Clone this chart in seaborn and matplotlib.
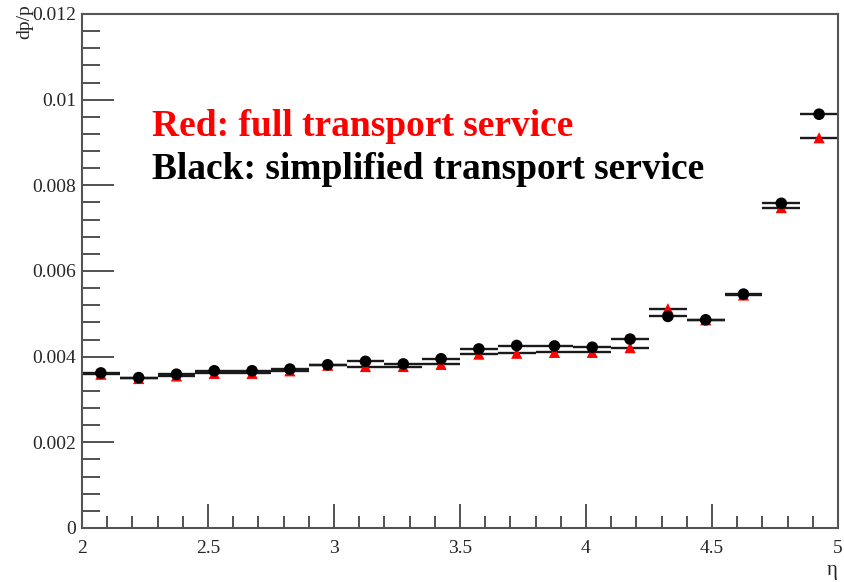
import numpy as np
import pandas as pd
import matplotlib
matplotlib.use("Agg")
import matplotlib.pyplot as plt
import seaborn as sns
from matplotlib.ticker import MultipleLocator

# eta bins (width 0.15 from 2.0 to 5.0)
bin_lo = [2.00, 2.15, 2.30, 2.45, 2.60, 2.75, 2.90, 3.05, 3.20, 3.35,
          3.50, 3.65, 3.80, 3.95, 4.10, 4.25, 4.40, 4.55, 4.70, 4.85]
bin_width = 0.15

# momentum resolution, full transport service
full_dpp = [0.00359, 0.00349, 0.00355, 0.00361, 0.00361, 0.00367, 0.00380, 0.00377, 0.00377, 0.00382,
            0.00406, 0.00408, 0.00410, 0.00410, 0.00421, 0.00512, 0.00486, 0.00544, 0.00748, 0.00911]
# momentum resolution, simplified transport service
simp_dpp = [0.00362, 0.00351, 0.00359, 0.00367, 0.00367, 0.00371, 0.00381, 0.00389, 0.00383, 0.00395,
            0.00418, 0.00426, 0.00425, 0.00422, 0.00441, 0.00494, 0.00486, 0.00546, 0.00758, 0.00966]

label_full = "Red: full transport service"
label_simp = "Black: simplified transport service"

centers = [lo + bin_width / 2 for lo in bin_lo]
df = pd.DataFrame({
    "eta": centers * 2,
    "dpp": full_dpp + simp_dpp,
    "service": ["full"] * len(full_dpp) + ["simplified"] * len(simp_dpp),
})

sns.set_theme(style="white")
plt.rcParams["font.family"] = ["Liberation Serif", "DejaVu Serif"]
plt.rcParams["mathtext.fontset"] = "stix"

fig = plt.figure(figsize=(8.45, 5.82), dpi=100)
ax = fig.add_axes([0.097, 0.0928, 0.8947, 0.8832])

# bin-width bars
for name in ["full", "simplified"]:
    sub = df[df["service"] == name]
    ax.errorbar(sub["eta"], sub["dpp"], xerr=bin_width / 2, fmt="none",
                ecolor="#1a1a1a", elinewidth=1.7, capsize=0, zorder=2)

sns.scatterplot(data=df[df["service"] == "full"], x="eta", y="dpp", ax=ax,
                color="#ff0000", marker="^", s=65, edgecolor="none", zorder=3, legend=False)
sns.scatterplot(data=df[df["service"] == "simplified"], x="eta", y="dpp", ax=ax,
                color="black", marker="o", s=70, edgecolor="none", zorder=4, legend=False)

ax.set_xlim(2, 5)
ax.set_ylim(0, 0.012)
ax.set_xlabel("")
ax.set_ylabel("")

ax.xaxis.set_minor_locator(MultipleLocator(0.1))
ax.yaxis.set_minor_locator(MultipleLocator(0.0004))
ax.set_xticks([2, 2.5, 3, 3.5, 4, 4.5, 5])
ax.set_xticklabels(["2", "2.5", "3", "3.5", "4", "4.5", "5"])
ax.set_yticks([0, 0.002, 0.004, 0.006, 0.008, 0.01, 0.012])
ax.set_yticklabels(["0", "0.002", "0.004", "0.006", "0.008", "0.01", "0.012"])

ax.tick_params(axis="both", which="both", direction="in", color="#333333",
               width=1.2, labelsize=14, top=False, right=False,
               bottom=True, left=True)
ax.tick_params(axis="y", which="major", length=23, pad=4)
ax.tick_params(axis="y", which="minor", length=13)
ax.tick_params(axis="x", which="major", length=17, pad=9)
ax.tick_params(axis="x", which="minor", length=9)

for sp in ax.spines.values():
    sp.set_color("#555555")
    sp.set_linewidth(1.5)

ax.text(2.278, 0.00938, label_full, color="#ff0000", fontsize=27,
        fontweight="bold", va="center", ha="left")
ax.text(2.278, 0.00838, label_simp, color="black", fontsize=27,
        fontweight="bold", va="center", ha="left")

fig.text(25 / 845, 1 - 4 / 582, "dp/p", rotation=90, ha="center", va="top", fontsize=14)
fig.text(832 / 845, 1 - 570 / 582, "η", ha="center", va="center", fontsize=15)

fig.savefig("out.png", dpi=100, facecolor="white")
